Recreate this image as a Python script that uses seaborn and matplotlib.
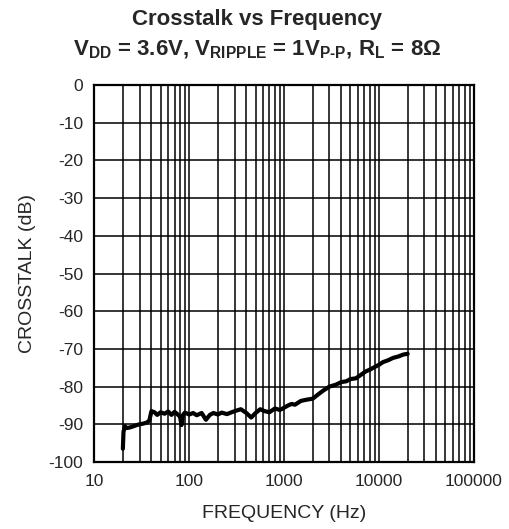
import numpy as np
import pandas as pd
import matplotlib
matplotlib.use("Agg")
import matplotlib.pyplot as plt
from matplotlib.ticker import LogLocator, FixedLocator, FixedFormatter, NullFormatter
import seaborn as sns

freq_hz = [20, 20.3, 21, 22, 24, 26, 28, 30, 33, 36, 38, 40, 43, 46, 50, 55, 60, 65,
           70, 75, 80, 83, 86, 90, 100, 110, 120, 135, 150, 165, 180, 200, 220, 250,
           280, 320, 350, 400, 450, 500, 560, 620, 700, 800, 900, 1000, 1100, 1200,
           1300, 1500, 1700, 2000, 2300, 2600, 3000, 3500, 4000, 4500, 5000, 5700,
           6500, 7200, 8000, 9000, 10000, 11000, 12500, 14000, 16000, 18000, 20000]
crosstalk_db = [-96.5, -92.0, -90.5, -91.0, -90.8, -90.5, -90.2, -90.0, -89.8, -89.5,
                -89.0, -86.5, -86.8, -87.5, -86.8, -87.2, -86.6, -87.5, -86.7, -87.3,
                -88.0, -90.2, -87.5, -86.9, -87.4, -87.0, -87.6, -87.0, -88.8, -87.5,
                -87.0, -87.4, -86.9, -87.3, -86.8, -86.3, -86.0, -87.0, -88.2, -87.0,
                -86.0, -86.5, -86.8, -85.8, -86.2, -85.6, -85.0, -84.6, -84.8, -83.8,
                -83.5, -83.2, -82.0, -81.0, -80.0, -79.5, -78.8, -78.6, -78.0, -77.8,
                -76.8, -76.0, -75.5, -74.8, -74.2, -73.5, -73.0, -72.4, -72.0, -71.5,
                -71.3]

x_ticks = [10, 100, 1000, 10000, 100000]
x_tick_labels = ["10", "100", "1000", "10000", "100000"]
y_ticks = [0, -10, -20, -30, -40, -50, -60, -70, -80, -90, -100]
y_tick_labels = ["0", "-10", "-20", "-30", "-40", "-50", "-60", "-70", "-80", "-90", "-100"]

sns.set_style("white")
plt.rcParams['font.family'] = ['Liberation Sans', 'DejaVu Sans']
plt.rcParams['mathtext.fontset'] = 'custom'
plt.rcParams['mathtext.rm'] = 'Liberation Sans:bold'
plt.rcParams['mathtext.bf'] = 'Liberation Sans:bold'
plt.rcParams['mathtext.it'] = 'Liberation Sans:bold'

df = pd.DataFrame({"freq": freq_hz, "db": crosstalk_db})

fig = plt.figure(figsize=(5.10, 5.29), dpi=100)
ax = fig.add_axes([94.3/510, 1-462/529, (474-94.3)/510, (462-85)/529])

sns.lineplot(data=df, x="freq", y="db", ax=ax, color="black", linewidth=3.0,
             estimator=None, sort=False, zorder=5)
ax.set_xscale("log")
ax.set_xlim(10, 100000)
ax.set_ylim(-100, 0)

ax.xaxis.set_major_locator(FixedLocator(x_ticks))
ax.xaxis.set_major_formatter(FixedFormatter(x_tick_labels))
ax.xaxis.set_minor_locator(LogLocator(base=10, subs=np.arange(2, 10), numticks=20))
ax.xaxis.set_minor_formatter(NullFormatter())
ax.yaxis.set_major_locator(FixedLocator(y_ticks))
ax.yaxis.set_major_formatter(FixedFormatter(y_tick_labels))

ax.grid(which="major", axis="both", color="black", linewidth=1.1)
ax.grid(which="minor", axis="x", color="black", linewidth=1.1)
ax.tick_params(which="both", length=0)
ax.tick_params(axis="x", labelsize=12.5, pad=9)
ax.tick_params(axis="y", labelsize=12.5, pad=8)
for s in ax.spines.values():
    s.set_color("black")
    s.set_linewidth(1.6)

ax.set_xlabel("FREQUENCY (Hz)", fontsize=14, labelpad=11)
ax.set_ylabel("CROSSTALK (dB)", fontsize=14, labelpad=9)

fig.text(0.504, 1-20/529, "Crosstalk vs Frequency", ha="center", va="center",
         fontsize=16, fontweight="bold")
fig.text(0.504, 1-50/529,
         r"V$_{\mathrm{DD}}$ = 3.6V, V$_{\mathrm{RIPPLE}}$ = 1V$_{\mathrm{P\text{-}P}}$, R$_{\mathrm{L}}$ = 8Ω",
         ha="center", va="center", fontsize=16, fontweight="bold")

fig.savefig("out.png", dpi=100)
